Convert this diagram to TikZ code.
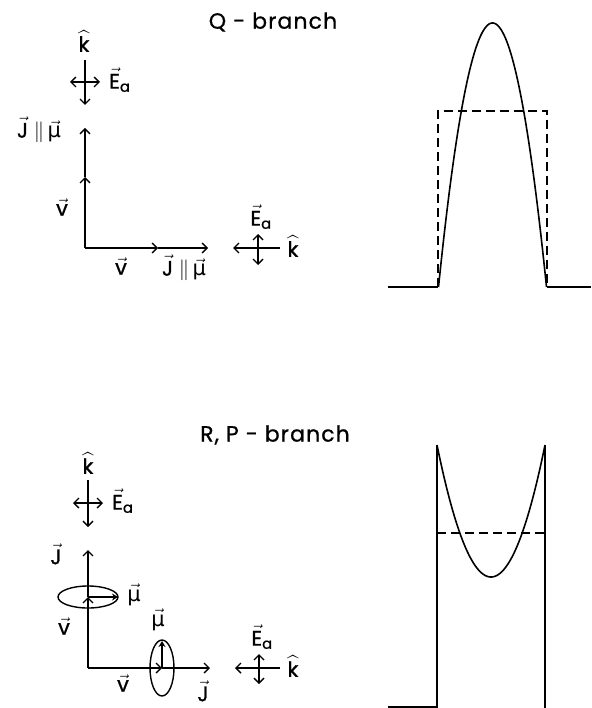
\documentclass[tikz,border=0pt]{standalone}
\usepackage{amsmath}
\usepackage{fontspec}
\setmainfont{Poppins}
\newfontfamily\greekfont{DejaVu Sans}
\usetikzlibrary{arrows.meta, calc}

\newcommand{\vlab}[1]{$\vec{\text{#1}}$}
\newcommand{\Ea}{$\vec{\text{E}}_{\text{a}}$}
\newcommand{\khat}{$\widehat{\text{k}}$}
\newcommand{\muvec}{$\vec{\text{\greekfont μ}}$}
\newcommand{\Jmu}{$\vec{\text{J}}\;{\parallel}\,\vec{\text{\greekfont μ}}$}

\begin{document}
\begin{tikzpicture}[x=1pt, y=-1pt,
      vec/.style={-{Straight Barb[length=5pt,width=10pt]}, line width=1.4pt},
      dvec/.style={{Straight Barb[length=5pt,width=10pt]}-{Straight Barb[length=5pt,width=10pt]},
          line width=1.4pt},
      mvec/.style={-{Stealth[length=6pt,width=7pt]}, line width=1.4pt},
      orbit/.style={draw, line width=1.4pt},
      lab/.style={font=\fontsize{21}{21}\selectfont\addfontfeatures{FakeBold=1,LetterSpace=4},
          inner sep=0pt},
      title/.style={font=\fontsize{22}{22}\selectfont\addfontfeatures{FakeBold=0.8,LetterSpace=5},
          inner sep=0pt},
      curve/.style={line width=1.6pt},
      envelope/.style={line width=1.4pt, dash pattern=on 9pt off 5pt}
    ]
    \useasboundingbox (0,0) rectangle (591,708);
    \clip (0,0) rectangle (591,708);

    % ── Q-branch ──
    \node[title] (qtitle) at (273,22) {Q - branch};

    % ── upper beam: k down, E horizontal ──
    \node[lab] (k1) at (84,41) {\khat};
    \coordinate (k1a) at (85,60);
    \coordinate (k1b) at (85,105);
    \draw[vec] (k1a) -- (k1b);
    \coordinate (e1a) at (70,82);
    \coordinate (e1b) at (100,82);
    \draw[dvec] (e1a) -- (e1b);
    \node[lab, anchor=west] (E1) at (109,80) {\Ea};

    % ── molecule axes ──
    \coordinate (O1) at (85,248);
    \coordinate (v1y) at (85,177);
    \coordinate (J1y) at (85,128);
    \coordinate (v1x) at (158,248);
    \coordinate (J1x) at (208,248);
    \draw[vec] (O1) -- (v1y);
    \draw[vec] (v1y) -- (J1y);
    \draw[vec] (O1) -- (v1x);
    \draw[vec] (v1x) -- (J1x);
    \node[lab] (v1l) at (62,207) {\vlab{v}};
    \node[lab] (J1l) at (39,130) {\Jmu};
    \node[lab] (v2l) at (121,266) {\vlab{v}};
    \node[lab] (J2l) at (184,268) {\Jmu};

    % ── side beam: k left, E vertical ──
    \node[lab] (E2) at (261,217) {\Ea};
    \node[lab] (k2) at (293,246) {\khat};
    \coordinate (k2a) at (280,248);
    \coordinate (k2b) at (233,248);
    \draw[vec] (k2a) -- (k2b);
    \coordinate (e2a) at (258,234);
    \coordinate (e2b) at (258,265);
    \draw[dvec] (e2a) -- (e2b);

    % ── Q-branch profile ──
    \coordinate (q0) at (388,287);
    \coordinate (q1) at (438,287);
    \coordinate (q2) at (547,287);
    \coordinate (q3) at (591,287);
    \draw[curve] (q0) -- (q1);
    \draw[curve] plot[domain=438.5:546.5, samples=80] (\x, {287-264*(1-((\x-492.5)/54)^2)});
    \draw[curve] (q2) -- (q3);
    \draw[envelope] (q1) -- (438,111) -- (547,111) -- (q2);

    % ── R,P-branch ──
    \node[title] (rptitle) at (275,435) {R, P - branch};

    % ── upper beam ──
    \node[lab] (k3) at (88,463) {\khat};
    \coordinate (k3a) at (88,480);
    \coordinate (k3b) at (88,527);
    \draw[vec] (k3a) -- (k3b);
    \coordinate (e3a) at (73,503);
    \coordinate (e3b) at (103,503);
    \draw[dvec] (e3a) -- (e3b);
    \node[lab, anchor=west] (E3) at (112,501) {\Ea};

    % ── molecule axes with rotating dipole ──
    \coordinate (O2) at (88,668);
    \coordinate (c1) at (88,597);
    \coordinate (J3y) at (88,550);
    \coordinate (c2) at (162,668);
    \coordinate (J3x) at (210,668);
    \draw[vec] (O2) -- (c1);
    \draw[vec] (c1) -- (J3y);
    \draw[vec] (O2) -- (c2);
    \draw[vec] (c2) -- (J3x);
    \draw[orbit] (c1) ellipse [x radius=30pt, y radius=11pt];
    \draw[orbit] (c2) ellipse [x radius=12pt, y radius=28pt];
    \coordinate (m1) at (118,597);
    \coordinate (m2) at (162,641);
    \draw[mvec] (c1) -- (m1);
    \draw[mvec] (c2) -- (m2);
    \node[lab] (J3l) at (56,554) {\vlab{J}};
    \node[lab] (v3l) at (64,626) {\vlab{v}};
    \node[lab] (mu1) at (134,595) {\muvec};
    \node[lab] (mu2) at (158,620) {\muvec};
    \node[lab] (v4l) at (123,683) {\vlab{v}};
    \node[lab] (J4l) at (203,691) {\vlab{J}};

    % ── side beam ──
    \node[lab] (E4) at (262,637) {\Ea};
    \node[lab] (k4) at (293,666) {\khat};
    \coordinate (k4a) at (280,668);
    \coordinate (k4b) at (235,668);
    \draw[vec] (k4a) -- (k4b);
    \coordinate (e4a) at (259,654);
    \coordinate (e4b) at (259,684);
    \draw[dvec] (e4a) -- (e4b);

    % ── R,P-branch profile ──
    \coordinate (p0) at (388,707);
    \coordinate (p1) at (437,707);
    \coordinate (p2) at (545,708);
    \draw[curve] (p0) -- (p1) -- (437,445);
    \draw[curve] plot[domain=437:545, samples=80] (\x, {577-132*((\x-491)/54)^2});
    \draw[curve] (545,445) -- (p2);
    \draw[envelope] (437,533) -- (545,533);

  \end{tikzpicture}
\end{document}
